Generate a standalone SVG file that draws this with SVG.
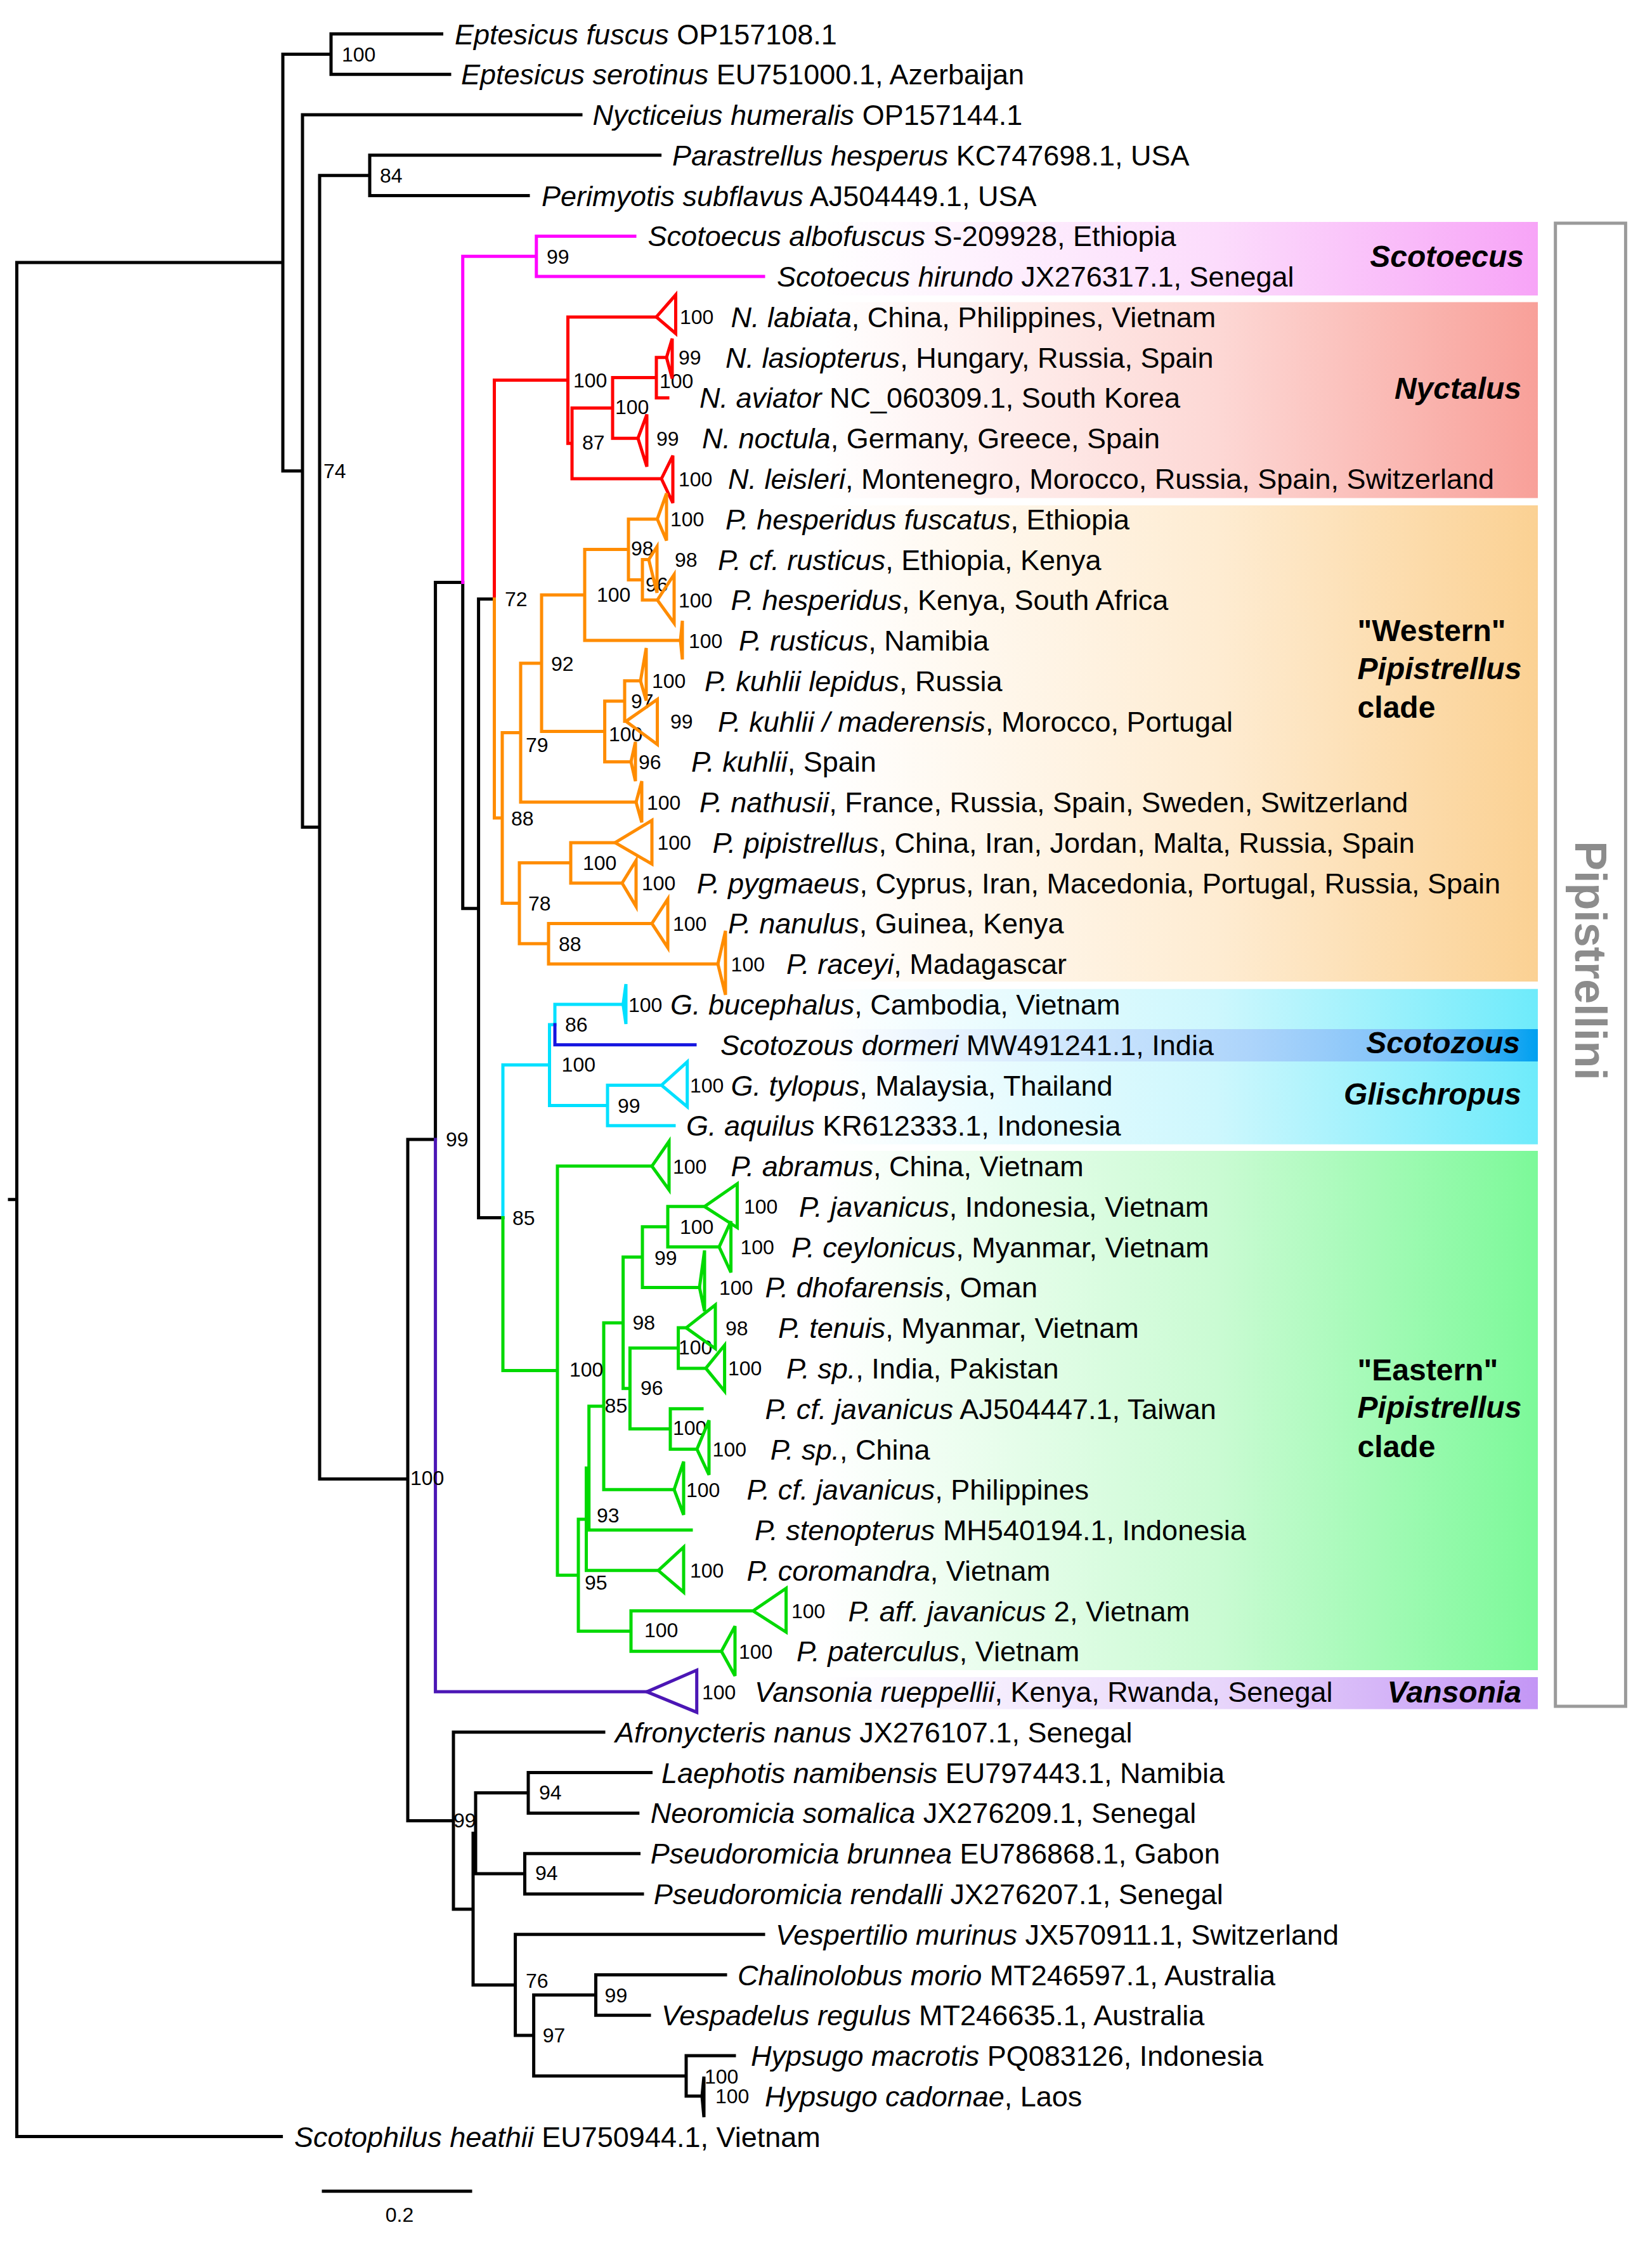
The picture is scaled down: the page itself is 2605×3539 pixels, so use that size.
<svg xmlns="http://www.w3.org/2000/svg" width="2605" height="3539" viewBox="0 0 2605 3539">
<defs>
<linearGradient id="gSco" x1="0" y1="0" x2="1" y2="0"><stop offset="0" stop-color="#ffffff"/><stop offset="0.55" stop-color="#fcdcfc"/><stop offset="1" stop-color="#f7a4f7"/></linearGradient>
<linearGradient id="gNyc" x1="0" y1="0" x2="1" y2="0"><stop offset="0" stop-color="#ffffff"/><stop offset="0.55" stop-color="#fdd8d5"/><stop offset="1" stop-color="#f8a099"/></linearGradient>
<linearGradient id="gWes" x1="0" y1="0" x2="1" y2="0"><stop offset="0" stop-color="#ffffff"/><stop offset="0.55" stop-color="#feecd2"/><stop offset="1" stop-color="#fbd193"/></linearGradient>
<linearGradient id="gGli" x1="0" y1="0" x2="1" y2="0"><stop offset="0" stop-color="#ffffff"/><stop offset="0.55" stop-color="#cdf7fd"/><stop offset="1" stop-color="#6eebfb"/></linearGradient>
<linearGradient id="gSzo" x1="0" y1="0" x2="1" y2="0"><stop offset="0" stop-color="#ffffff"/><stop offset="0.6" stop-color="#acd4fb"/><stop offset="0.85" stop-color="#78bff8"/><stop offset="1" stop-color="#00a0f0"/></linearGradient>
<linearGradient id="gEas" x1="0" y1="0" x2="1" y2="0"><stop offset="0" stop-color="#ffffff"/><stop offset="0.55" stop-color="#cafbd3"/><stop offset="1" stop-color="#7cf999"/></linearGradient>
<linearGradient id="gVan" x1="0" y1="0" x2="1" y2="0"><stop offset="0" stop-color="#ffffff"/><stop offset="0.55" stop-color="#e8d6fb"/><stop offset="1" stop-color="#c396f5"/></linearGradient>
</defs>
<style>
.br{fill:none;stroke-width:5;stroke-linecap:square;stroke-linejoin:miter}
.tri{fill:none;stroke-width:5;stroke-linejoin:miter;stroke-miterlimit:4}
.k{stroke:#000000}.m{stroke:#ff00ff}.r{stroke:#ff0000}.o{stroke:#ff8c00}.c{stroke:#00e0ff}.b{stroke:#1515e0}.g{stroke:#00d900}.p{stroke:#4b16b5}
text{font-family:"Liberation Sans",Arial,Helvetica,sans-serif;fill:#000}
.t{font-size:45px}
.s{font-size:32px}
.i{font-style:italic}
.cl{font-size:48px;font-weight:bold}
</style>
<rect width="2605" height="3539" fill="#ffffff"/>
<g id="clade-boxes">
<rect x="1300" y="350" width="1125" height="116" fill="url(#gSco)"/>
<rect x="1300" y="476.5" width="1125" height="309" fill="url(#gNyc)"/>
<rect x="1300" y="797" width="1125" height="751" fill="url(#gWes)"/>
<rect x="1300" y="1559.7" width="1125" height="245" fill="url(#gGli)"/>
<rect x="1300" y="1623" width="1125" height="51" fill="url(#gSzo)"/>
<rect x="1300" y="1815" width="1125" height="819" fill="url(#gEas)"/>
<rect x="1300" y="2645" width="1125" height="50.5" fill="url(#gVan)"/>
</g>
<g id="pipistrellini-bracket">
<rect x="2452.7" y="352" width="110.7" height="2339" fill="none" stroke="#9a9a9a" stroke-width="5"/>
<text transform="translate(2484,1515) rotate(90)" text-anchor="middle" font-size="70" font-weight="bold" style="fill:#8c8c8c">Pipistrellini</text>
</g>
<g id="connectors">
<path class="br k" d="M15 1891.8H26.5M26.5 414.1V3369.5M26.5 414.1H446M26.5 3369.5H443.6M446 85.4V742.8M446 85.4H522M522 53.5V117.3M522 53.5H696.5M522 117.3H709M446 742.8H477M477 181V1304.5M477 181H916M477 1304.5H504M504 276.7V2332.4M504 276.7H583M583 244.8V308.6M583 244.8H1040.6M583 308.6H833M504 2332.4H643M643 1797V2871.4M643 1797H686.6M686.6 918.5V1797M686.6 918.5H729.7M729.7 918.5V1432.7M729.7 1432.7H754.6M754.6 944.8V1920.6M754.6 944.8H779.5M754.6 1920.6H793M643 2871.4H715M715 2731.8V3010.9M715 2731.8H952M715 3010.9H746M746 2891.3V3130.4M746 2891.3H750M750 2827.5V2955M750 2827.5H833M833 2795.6V2859.4M833 2795.6H1026.5M833 2859.4H1005.8M750 2955H827.5M827.5 2923.2V2986.9M827.5 2923.2H1007.5M827.5 2986.9H1013M746 3130.4H812.6M812.6 3050.7V3210.1M812.6 3050.7H1204M812.6 3210.1H841.6M841.6 3146.3V3273.9M841.6 3146.3H939.5M939.5 3114.5V3178.2M939.5 3114.5H1144M939.5 3178.2H1024M841.6 3273.9H1082M1082 3242V3305.8M1082 3242H1158M1082 3305.8H1107"/>
<path class="br m" d="M729.7 404.2V918.5M729.7 404.2H845.8M845.8 372.4V436.1M845.8 372.4H1001M845.8 436.1H1204"/>
<path class="br r" d="M779.5 599.5V944.8M779.5 599.5H895.5M895.5 499.9V699.2M895.5 499.9H1035M895.5 699.2H902M902 643.4V755M902 643.4H966M966 595.5V691.2M966 595.5H1035M1035 563.7V627.4M1035 563.7H1051M1035 627.4H1053M966 691.2H1006M902 755H1043"/>
<path class="br o" d="M779.5 944.8V1290M779.5 1290H792M792 1155.5V1424.6M792 1155.5H821M821 1045.9V1265.1M821 1045.9H854M854 938.3V1153.5M854 938.3H922M922 866.6V1010.1M922 866.6H991M991 818.7V914.4M991 818.7H1036.5M991 914.4H1013M1013 882.5V946.3M1013 882.5H1023M1013 946.3H1036.5M922 1010.1H1073M854 1153.5H953.6M953.6 1105.7V1201.4M953.6 1105.7H985M985 1073.8V1137.6M985 1073.8H1010M985 1137.6H987M953.6 1201.4H995M821 1265.1H1003M792 1424.6H819M819 1360.8V1488.3M819 1360.8H900M900 1328.9V1392.7M900 1328.9H970M900 1392.7H981M819 1488.3H865M865 1456.4V1520.2M865 1456.4H1028M865 1520.2H1132"/>
<path class="br c" d="M793 1679.6V1920.6M793 1679.6H866.5M866.5 1615.9V1743.4M866.5 1615.9H875M875 1584V1615.9M875 1584H982.6M866.5 1743.4H958M958 1711.5V1775.3M958 1711.5H1043M958 1775.3H1063"/>
<path class="br b" d="M875 1615.9V1647.8M875 1647.8H1096"/>
<path class="br g" d="M793 1920.6V2161.6M793 2161.6H879M879 1839.1V2484.2M879 1839.1H1028M879 2484.2H912M912 2396V2572.4M912 2396H924.5M924.5 2315.3V2476.8M924.5 2315.3H928.7M928.7 2217.7V2413M928.7 2217.7H952M928.7 2413H1090M924.5 2476.8H1038M952 2086.2V2349.2M952 2086.2H982.6M952 2349.2H1063M982.6 1982.5V2189.8M982.6 1982.5H1013M1013 1934.7V2030.4M1013 1934.7H1053M1053 1902.8V1966.6M1053 1902.8H1111M1053 1966.6H1134M1013 2030.4H1103M982.6 2189.8H993.4M993.4 2126V2253.6M993.4 2126H1069.6M1069.6 2094.1V2157.9M1069.6 2094.1H1082M1069.6 2157.9H1113M993.4 2253.6H1057M1057 2221.7V2285.5M1057 2221.7H1107M1057 2285.5H1099M912 2572.4H995M995 2540.5V2604.3M995 2540.5H1187.4M995 2604.3H1137.6"/>
<path class="br p" d="M686.6 1797V2668.1M686.6 2668.1H1020"/>
</g>
<g id="support-values" class="s">
<text x="539" y="96.9" class="s">100</text>
<text x="599" y="288.2" class="s">84</text>
<text x="510" y="754.3" class="s">74</text>
<text x="862" y="415.7" class="s">99</text>
<text x="904" y="611" class="s">100</text>
<text x="918" y="709" class="s">87</text>
<text x="970" y="653.4" class="s">100</text>
<text x="1040" y="612" class="s">100</text>
<text x="796" y="956.3" class="s">72</text>
<text x="995" y="875.5" class="s">98</text>
<text x="1018" y="932.5" class="s">96</text>
<text x="941" y="949" class="s">100</text>
<text x="869" y="1057.5" class="s">92</text>
<text x="995" y="1116.5" class="s">97</text>
<text x="960" y="1168.5" class="s">100</text>
<text x="829" y="1185.5" class="s">79</text>
<text x="806" y="1302" class="s">88</text>
<text x="919" y="1372" class="s">100</text>
<text x="833" y="1436" class="s">78</text>
<text x="881" y="1499.5" class="s">88</text>
<text x="891" y="1626.5" class="s">86</text>
<text x="885.6" y="1690" class="s">100</text>
<text x="974" y="1755" class="s">99</text>
<text x="703" y="1808" class="s">99</text>
<text x="808" y="1932" class="s">85</text>
<text x="898" y="2171" class="s">100</text>
<text x="1072" y="1946" class="s">100</text>
<text x="1032" y="1994.5" class="s">99</text>
<text x="997.5" y="2096.5" class="s">98</text>
<text x="1070" y="2136" class="s">100</text>
<text x="1010" y="2200" class="s">96</text>
<text x="953.6" y="2227.5" class="s">85</text>
<text x="1061" y="2263" class="s">100</text>
<text x="941" y="2400.5" class="s">93</text>
<text x="922" y="2507" class="s">95</text>
<text x="1016" y="2582" class="s">100</text>
<text x="647" y="2342.3" class="s">100</text>
<text x="715" y="2882" class="s">99</text>
<text x="850" y="2838.2" class="s">94</text>
<text x="844" y="2964.5" class="s">94</text>
<text x="829" y="3135.3" class="s">76</text>
<text x="953.6" y="3157.5" class="s">99</text>
<text x="855.7" y="3221.2" class="s">97</text>
<text x="1111" y="3285.8" class="s">100</text>
</g>
<g id="tip-01"><text class="t" x="717" y="69.5"><tspan class="i">Eptesicus fuscus</tspan> OP157108.1</text></g>
<g id="tip-02"><text class="t" x="727" y="133.3"><tspan class="i">Eptesicus serotinus</tspan> EU751000.1, Azerbaijan</text></g>
<g id="tip-03"><text class="t" x="934.5" y="197"><tspan class="i">Nycticeius humeralis</tspan> OP157144.1</text></g>
<g id="tip-04"><text class="t" x="1060" y="260.8"><tspan class="i">Parastrellus hesperus</tspan> KC747698.1, USA</text></g>
<g id="tip-05"><text class="t" x="854" y="324.6"><tspan class="i">Perimyotis subflavus</tspan> AJ504449.1, USA</text></g>
<g id="tip-06"><text class="t" x="1021.6" y="388.4"><tspan class="i">Scotoecus albofuscus</tspan> S-209928, Ethiopia</text></g>
<g id="tip-07"><text class="t" x="1225" y="452.1"><tspan class="i">Scotoecus hirundo</tspan> JX276317.1, Senegal</text></g>
<g id="tip-08"><polygon class="tri r" points="1035,499.9 1065.5,465 1065.5,526"/><text class="s" x="1072" y="511.4">100</text><text class="t" x="1152.6" y="515.9"><tspan class="i">N. labiata</tspan>, China, Philippines, Vietnam</text></g>
<g id="tip-09"><polygon class="tri r" points="1051,563.7 1060,534 1060,597"/><text class="s" x="1070" y="575.2">99</text><text class="t" x="1144" y="579.7"><tspan class="i">N. lasiopterus</tspan>, Hungary, Russia, Spain</text></g>
<g id="tip-10"><text class="t" x="1103" y="643.4"><tspan class="i">N. aviator</tspan> NC_060309.1, South Korea</text></g>
<g id="tip-11"><polygon class="tri r" points="1006,691.2 1020,653.6 1020,735.9"/><text class="s" x="1035" y="702.7">99</text><text class="t" x="1107" y="707.2"><tspan class="i">N. noctula</tspan>, Germany, Greece, Spain</text></g>
<g id="tip-12"><polygon class="tri r" points="1043,755 1061,718.6 1061,793.3"/><text class="s" x="1070" y="766.5">100</text><text class="t" x="1148" y="771"><tspan class="i">N. leisleri</tspan>, Montenegro, Morocco, Russia, Spain, Switzerland</text></g>
<g id="tip-13"><polygon class="tri o" points="1036.5,818.7 1051,778 1051,852.6"/><text class="s" x="1057" y="830.2">100</text><text class="t" x="1144" y="834.7"><tspan class="i">P. hesperidus fuscatus</tspan>, Ethiopia</text></g>
<g id="tip-14"><polygon class="tri o" points="1023,882.5 1036,862 1036,935"/><text class="s" x="1064" y="894">98</text><text class="t" x="1132" y="898.5"><tspan class="i">P. cf. rusticus</tspan>, Ethiopia, Kenya</text></g>
<g id="tip-15"><polygon class="tri o" points="1036.5,946.3 1063,906 1063,982.7"/><text class="s" x="1070" y="957.8">100</text><text class="t" x="1152.6" y="962.3"><tspan class="i">P. hesperidus</tspan>, Kenya, South Africa</text></g>
<g id="tip-16"><polygon class="tri o" points="1073,1010.1 1076,979 1076,1040"/><text class="s" x="1086" y="1021.5">100</text><text class="t" x="1165" y="1026"><tspan class="i">P. rusticus</tspan>, Namibia</text></g>
<g id="tip-17"><polygon class="tri o" points="1010,1073.8 1019,1022 1019,1105"/><text class="s" x="1028" y="1085.3">100</text><text class="t" x="1111" y="1089.8"><tspan class="i">P. kuhlii lepidus</tspan>, Russia</text></g>
<g id="tip-18"><polygon class="tri o" points="987,1137.6 1036.5,1103 1036.5,1174"/><text class="s" x="1057" y="1149">99</text><text class="t" x="1132" y="1153.6"><tspan class="i">P. kuhlii / maderensis</tspan>, Morocco, Portugal</text></g>
<g id="tip-19"><polygon class="tri o" points="995,1201.4 1002,1170 1002,1232"/><text class="s" x="1007" y="1212.9">96</text><text class="t" x="1090" y="1217.4"><tspan class="i">P. kuhlii</tspan>, Spain</text></g>
<g id="tip-20"><polygon class="tri o" points="1003,1265.1 1012,1232 1012,1297"/><text class="s" x="1020" y="1276.6">100</text><text class="t" x="1103" y="1281.1"><tspan class="i">P. nathusii</tspan>, France, Russia, Spain, Sweden, Switzerland</text></g>
<g id="tip-21"><polygon class="tri o" points="970,1328.9 1028,1293.8 1028,1362.6"/><text class="s" x="1036.5" y="1340.4">100</text><text class="t" x="1123.6" y="1344.9"><tspan class="i">P. pipistrellus</tspan>, China, Iran, Jordan, Malta, Russia, Spain</text></g>
<g id="tip-22"><polygon class="tri o" points="981,1392.7 1003,1357 1003,1429.6"/><text class="s" x="1012" y="1404.2">100</text><text class="t" x="1098.7" y="1408.7"><tspan class="i">P. pygmaeus</tspan>, Cyprus, Iran, Macedonia, Portugal, Russia, Spain</text></g>
<g id="tip-23"><polygon class="tri o" points="1028,1456.4 1053,1418 1053,1494.7"/><text class="s" x="1061" y="1468">100</text><text class="t" x="1148" y="1472.4"><tspan class="i">P. nanulus</tspan>, Guinea, Kenya</text></g>
<g id="tip-24"><polygon class="tri o" points="1132,1520.2 1144,1468 1144,1569"/><text class="s" x="1152.6" y="1531.7">100</text><text class="t" x="1240" y="1536.2"><tspan class="i">P. raceyi</tspan>, Madagascar</text></g>
<g id="tip-25"><polygon class="tri c" points="982.6,1584 987,1552 987,1615"/><text class="s" x="991" y="1595.5">100</text><text class="t" x="1057" y="1600"><tspan class="i">G. bucephalus</tspan>, Cambodia, Vietnam</text></g>
<g id="tip-26"><text class="t" x="1136" y="1663.8"><tspan class="i">Scotozous dormeri</tspan> MW491241.1, India</text></g>
<g id="tip-27"><polygon class="tri c" points="1043,1711.5 1083.7,1674.6 1083.7,1745.3"/><text class="s" x="1088" y="1723">100</text><text class="t" x="1152.6" y="1727.5"><tspan class="i">G. tylopus</tspan>, Malaysia, Thailand</text></g>
<g id="tip-28"><text class="t" x="1082" y="1791.3"><tspan class="i">G. aquilus</tspan> KR612333.1, Indonesia</text></g>
<g id="tip-29"><polygon class="tri g" points="1028,1839.1 1055,1800 1055,1876.5"/><text class="s" x="1061" y="1850.6">100</text><text class="t" x="1152.6" y="1855.1"><tspan class="i">P. abramus</tspan>, China, Vietnam</text></g>
<g id="tip-30"><polygon class="tri g" points="1111,1902.8 1162.5,1867 1162.5,1936"/><text class="s" x="1173" y="1914.3">100</text><text class="t" x="1260" y="1918.8"><tspan class="i">P. javanicus</tspan>, Indonesia, Vietnam</text></g>
<g id="tip-31"><polygon class="tri g" points="1134,1966.6 1152.6,1926 1152.6,2006.7"/><text class="s" x="1167.5" y="1978.1">100</text><text class="t" x="1248" y="1982.6"><tspan class="i">P. ceylonicus</tspan>, Myanmar, Vietnam</text></g>
<g id="tip-32"><polygon class="tri g" points="1103,2030.4 1111,1972 1111,2068"/><text class="s" x="1134" y="2041.9">100</text><text class="t" x="1206.5" y="2046.4"><tspan class="i">P. dhofarensis</tspan>, Oman</text></g>
<g id="tip-33"><polygon class="tri g" points="1082,2094.1 1128,2058 1128,2127"/><text class="s" x="1144" y="2105.6">98</text><text class="t" x="1227" y="2110.1"><tspan class="i">P. tenuis</tspan>, Myanmar, Vietnam</text></g>
<g id="tip-34"><polygon class="tri g" points="1113,2157.9 1142.6,2121.5 1142.6,2194"/><text class="s" x="1148" y="2169.4">100</text><text class="t" x="1240" y="2173.9"><tspan class="i">P. sp.</tspan>, India, Pakistan</text></g>
<g id="tip-35"><text class="t" x="1206.5" y="2237.7"><tspan class="i">P. cf. javanicus</tspan> AJ504447.1, Taiwan</text></g>
<g id="tip-36"><polygon class="tri g" points="1099,2285.5 1118,2240 1118,2326"/><text class="s" x="1123.6" y="2297">100</text><text class="t" x="1214.7" y="2301.5"><tspan class="i">P. sp.</tspan>, China</text></g>
<g id="tip-37"><polygon class="tri g" points="1063,2349.2 1078,2305 1078,2389"/><text class="s" x="1082" y="2360.7">100</text><text class="t" x="1177.5" y="2365.2"><tspan class="i">P. cf. javanicus</tspan>, Philippines</text></g>
<g id="tip-38"><text class="t" x="1190" y="2429"><tspan class="i">P. stenopterus</tspan> MH540194.1, Indonesia</text></g>
<g id="tip-39"><polygon class="tri g" points="1038,2476.8 1078,2440 1078,2511"/><text class="s" x="1088" y="2488.3">100</text><text class="t" x="1177.5" y="2492.8"><tspan class="i">P. coromandra</tspan>, Vietnam</text></g>
<g id="tip-40"><polygon class="tri g" points="1187.4,2540.5 1239.6,2505 1239.6,2574"/><text class="s" x="1248" y="2552">100</text><text class="t" x="1337.5" y="2556.5"><tspan class="i">P. aff. javanicus</tspan> 2, Vietnam</text></g>
<g id="tip-41"><polygon class="tri g" points="1137.6,2604.3 1159,2564.6 1159,2643"/><text class="s" x="1165" y="2615.8">100</text><text class="t" x="1256" y="2620.3"><tspan class="i">P. paterculus</tspan>, Vietnam</text></g>
<g id="tip-42"><polygon class="tri p" points="1020,2668.1 1098.7,2634 1098.7,2700.4"/><text class="s" x="1107" y="2679.6">100</text><text class="t" x="1190" y="2684.1"><tspan class="i">Vansonia rueppellii</tspan>, Kenya, Rwanda, Senegal</text></g>
<g id="tip-43"><text class="t" x="970" y="2747.8"><tspan class="i">Afronycteris nanus</tspan> JX276107.1, Senegal</text></g>
<g id="tip-44"><text class="t" x="1043" y="2811.6"><tspan class="i">Laephotis namibensis</tspan> EU797443.1, Namibia</text></g>
<g id="tip-45"><text class="t" x="1025.7" y="2875.4"><tspan class="i">Neoromicia somalica</tspan> JX276209.1, Senegal</text></g>
<g id="tip-46"><text class="t" x="1025.7" y="2939.2"><tspan class="i">Pseudoromicia brunnea</tspan> EU786868.1, Gabon</text></g>
<g id="tip-47"><text class="t" x="1030.7" y="3002.9"><tspan class="i">Pseudoromicia rendalli</tspan> JX276207.1, Senegal</text></g>
<g id="tip-48"><text class="t" x="1223" y="3066.7"><tspan class="i">Vespertilio murinus</tspan> JX570911.1, Switzerland</text></g>
<g id="tip-49"><text class="t" x="1163" y="3130.5"><tspan class="i">Chalinolobus morio</tspan> MT246597.1, Australia</text></g>
<g id="tip-50"><text class="t" x="1043" y="3194.2"><tspan class="i">Vespadelus regulus</tspan> MT246635.1, Australia</text></g>
<g id="tip-51"><text class="t" x="1184" y="3258"><tspan class="i">Hypsugo macrotis</tspan> PQ083126, Indonesia</text></g>
<g id="tip-52"><polygon class="tri k" points="1107,3305.8 1110,3275 1110,3339"/><text class="s" x="1128" y="3317.3">100</text><text class="t" x="1206" y="3321.8"><tspan class="i">Hypsugo cadornae</tspan>, Laos</text></g>
<g id="tip-53"><text class="t" x="464" y="3385.5"><tspan class="i">Scotophilus heathii</tspan> EU750944.1, Vietnam</text></g>
<g id="clade-labels">
<text class="cl i" x="2403" y="421" text-anchor="end">Scotoecus</text>
<text class="cl i" x="2399" y="629" text-anchor="end">Nyctalus</text>
<text class="cl" x="2140.6" y="1011">"Western"</text>
<text class="cl i" x="2140.6" y="1071">Pipistrellus</text>
<text class="cl" x="2140.6" y="1132">clade</text>
<text class="cl i" x="2397" y="1661" text-anchor="end">Scotozous</text>
<text class="cl i" x="2399" y="1741.5" text-anchor="end">Glischropus</text>
<text class="cl" x="2140.6" y="2177">"Eastern"</text>
<text class="cl i" x="2140.6" y="2236">Pipistrellus</text>
<text class="cl" x="2140.6" y="2297.5">clade</text>
<text class="cl i" x="2399" y="2685" text-anchor="end">Vansonia</text>
</g>
<g id="scale-bar">
<path class="br k" d="M510 3455.8H742"/>
<text class="s" x="630" y="3503.5" text-anchor="middle">0.2</text>
</g>
</svg>
